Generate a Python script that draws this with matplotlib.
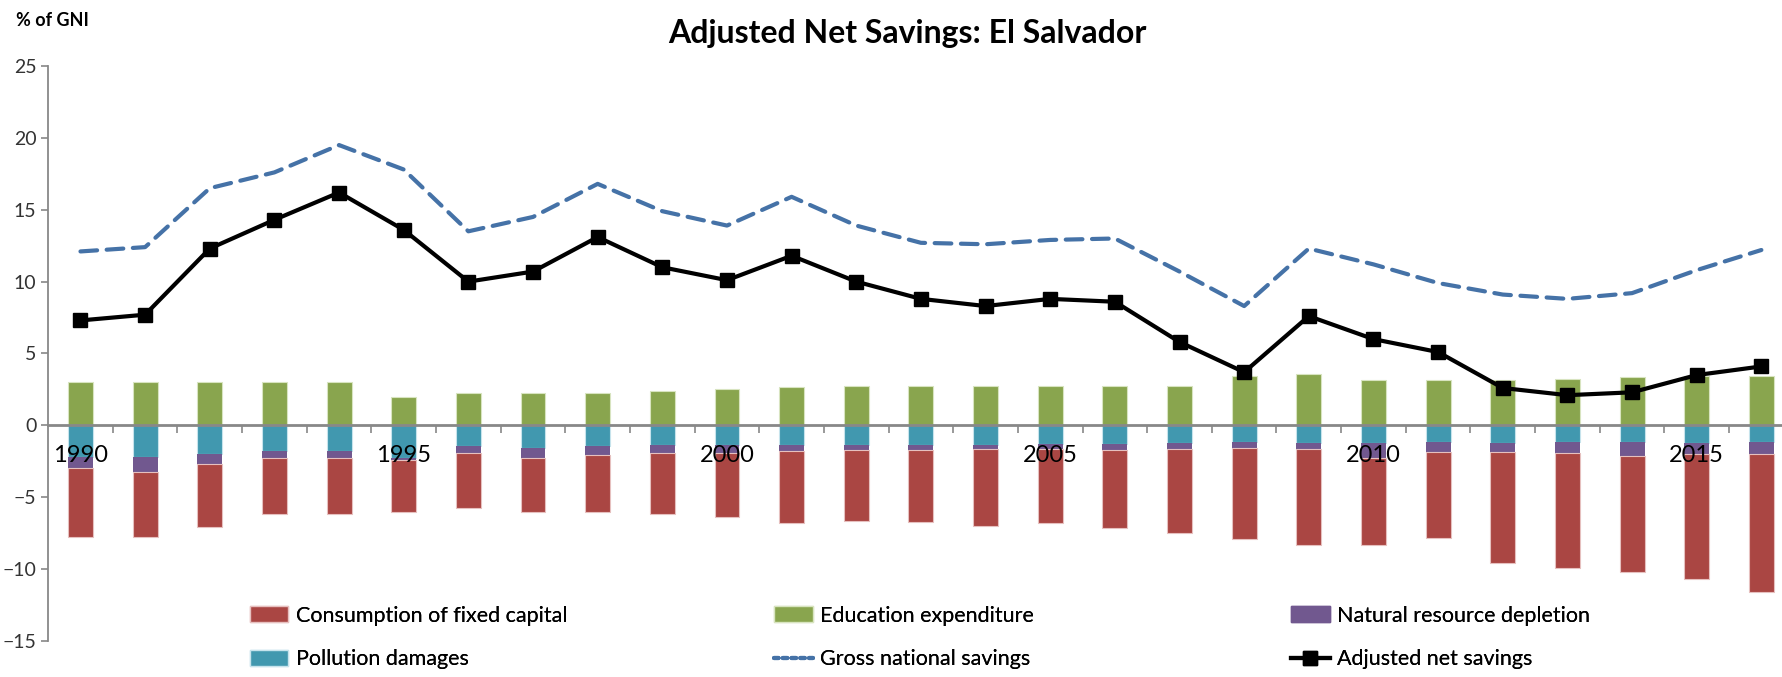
#!/usr/bin/env python
import matplotlib
matplotlib.use("Agg")
import matplotlib.pyplot as plt
import matplotlib.patches as mpatches
import matplotlib.lines as mlines
import numpy as np

years = list(range(1990, 2017))

# % of GNI
gross_national_savings = [12.1, 12.4, 16.5, 17.6, 19.5, 17.8, 13.5, 14.5, 16.8, 14.9,
                          13.9, 15.9, 13.9, 12.7, 12.6, 12.9, 13.0, 10.7, 8.3, 12.3,
                          11.2, 9.9, 9.1, 8.8, 9.2, 10.8, 12.2]
adjusted_net_savings = [7.3, 7.7, 12.3, 14.3, 16.2, 13.6, 10.0, 10.7, 13.1, 11.0,
                        10.1, 11.8, 10.0, 8.8, 8.3, 8.8, 8.6, 5.8, 3.7, 7.6,
                        6.0, 5.1, 2.6, 2.1, 2.3, 3.5, 4.1]
education_expenditure = [3.0, 3.0, 3.0, 3.0, 3.0, 2.0, 2.25, 2.25, 2.25, 2.4,
                         2.5, 2.65, 2.75, 2.75, 2.75, 2.75, 2.75, 2.75, 3.45, 3.6,
                         3.15, 3.15, 3.15, 3.2, 3.35, 3.4, 3.45]
# negative components, stored as magnitudes
pollution_damages = [2.18, 2.17, 1.98, 1.8, 1.8, 2.25, 1.45, 1.54, 1.45, 1.4,
                     1.39, 1.34, 1.34, 1.4, 1.34, 1.32, 1.27, 1.2, 1.13, 1.2,
                     1.2, 1.13, 1.2, 1.13, 1.13, 1.2, 1.13]
natural_resource_depletion = [0.82, 1.06, 0.72, 0.5, 0.46, 0.15, 0.45, 0.72, 0.58, 0.5,
                              0.51, 0.46, 0.39, 0.33, 0.32, 0.3, 0.46, 0.46, 0.46, 0.46,
                              1.05, 0.71, 0.64, 0.77, 0.97, 0.8, 0.85]
consumption_fixed_capital = [4.74, 4.51, 4.4, 3.9, 3.94, 3.66, 3.84, 3.74, 3.97, 4.3,
                             4.44, 5.0, 4.93, 5.0, 5.32, 5.18, 5.39, 5.84, 6.29, 6.64,
                             6.05, 5.97, 7.76, 8.0, 8.1, 8.7, 9.62]

red = '#AA4643'
green = '#89A54E'
purple = '#71588F'
teal = '#4198AF'
blue = '#4572A7'
axis_grey = '#888888'

plt.rcParams['font.family'] = ['Lato', 'DejaVu Sans']

fig = plt.figure(figsize=(17.83, 6.77), dpi=100)
ax = fig.add_axes([0.027, 0.0532, 0.979, 0.8493])

x = np.arange(len(years))
pd_ = -np.array(pollution_damages)
nrd = -np.array(natural_resource_depletion)
cfc = -np.array(consumption_fixed_capital)
width = 0.385

ax.bar(x, education_expenditure, width, color=green, edgecolor='#d8e4c0', linewidth=0.8, zorder=1)
ax.bar(x, pd_, width, color=teal, edgecolor='#c6e3ec', linewidth=0.8, zorder=1)
ax.bar(x, nrd, width, bottom=pd_, color=purple, edgecolor=purple, linewidth=0.0, zorder=1)
ax.bar(x, cfc, width, bottom=pd_ + nrd, color=red, edgecolor='#e6c0bf', linewidth=0.8, zorder=1)

ax.plot(x, gross_national_savings, color=blue, linewidth=3.0, dashes=(4.0, 2.3),
        dash_capstyle='round', zorder=3)
ax.plot(x, adjusted_net_savings, color='black', linewidth=3.0, marker='s',
        markersize=9.5, zorder=4)

ax.set_xlim(-0.5, len(years) - 0.5)
ax.set_ylim(-15, 25)
ax.set_yticks(range(-15, 26, 5))

for side in ['top', 'right']:
    ax.spines[side].set_visible(False)
ax.spines['left'].set_color(axis_grey)
ax.spines['left'].set_linewidth(1.3)
ax.spines['bottom'].set_position(('data', 0))
ax.spines['bottom'].set_color(axis_grey)
ax.spines['bottom'].set_linewidth(2.0)
ax.spines['bottom'].set_zorder(2)

ax.tick_params(axis='y', colors=axis_grey, labelcolor='#333333', labelsize=14,
               length=5, width=1.2, direction='out')

# tick marks between categories, year labels every 5 years under the bars
ax.set_xticks(x[1:] - 0.5)
ax.set_xticklabels([])
ax.tick_params(axis='x', which='major', colors=axis_grey, length=6, width=1.2,
               direction='out')
ax.set_xticks(x, minor=True)
ax.set_xticklabels([str(y) if y % 5 == 0 else '' for y in years], minor=True)
ax.tick_params(axis='x', which='minor', length=0, pad=14, labelsize=17,
               labelcolor='black')

fig.text(0.509, 0.95, 'Adjusted Net Savings: El Salvador', ha='center', va='center',
         fontsize=23, fontweight='bold')
fig.text(0.009, 0.97, '% of GNI', ha='left', va='center', fontsize=13, fontweight='bold')

h_cfc = mpatches.Patch(facecolor=red, edgecolor='#e6c0bf', label='Consumption of fixed capital')
h_pd = mpatches.Patch(facecolor=teal, edgecolor='#c6e3ec', label='Pollution damages')
h_edu = mpatches.Patch(facecolor=green, edgecolor='#d8e4c0', label='Education expenditure')
h_gns = mlines.Line2D([], [], color=blue, linewidth=3.0, dashes=(1.1, 1.0),
                      dash_capstyle='round', label='Gross national savings')
h_nrd = mpatches.Patch(facecolor=purple, edgecolor=purple, label='Natural resource depletion')
h_ans = mlines.Line2D([], [], color='black', linewidth=3.0, marker='s', markersize=9.5,
                      label='Adjusted net savings')

for handles, xpos in [([h_cfc, h_pd], 0.140), ([h_edu, h_gns], 0.434), ([h_nrd, h_ans], 0.724)]:
    leg = fig.legend(handles=handles, loc='center left', bbox_to_anchor=(xpos, 0.0585),
                     frameon=False, fontsize=15.5, borderpad=0, borderaxespad=0,
                     handlelength=1.8, handleheight=0.75, handletextpad=0.35,
                     labelspacing=1.1)
    fig.add_artist(leg)

plt.savefig('out.png', dpi=100)
